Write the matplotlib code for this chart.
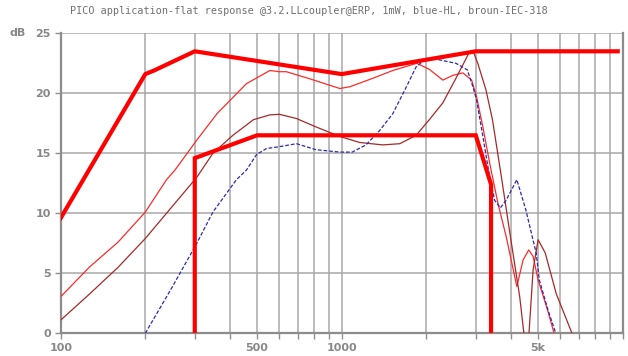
import matplotlib
matplotlib.use("Agg")
import matplotlib.pyplot as plt
import numpy as np

# Target corridor: upper and lower limits (Hz, dB)
upper_f = [100, 200, 215, 300, 1000, 3000, 9600]
upper_db = [9.6, 21.6, 21.9, 23.5, 21.6, 23.5, 23.5]
lower_f = [300, 300, 500, 3000, 3400, 3400]
lower_db = [0, 14.6, 16.5, 16.5, 12.4, 0]

# Measured response, red
red_f = [100, 127, 160, 200, 238, 255, 305, 360, 458, 555, 600, 635, 760, 985, 1070,
         1290, 1520, 1850, 2050, 2290, 2490, 2700, 2900, 3020, 3180, 3360, 3600, 3850,
         4200, 4420, 4630, 4800, 5000, 5400, 5700]
red_db = [3.05, 5.55, 7.6, 10.1, 12.8, 13.6, 16.1, 18.3, 20.8, 21.9, 21.8, 21.8, 21.25,
          20.4, 20.55, 21.25, 21.9, 22.5, 22.0, 21.1, 21.5, 21.7, 21.1, 19.7, 17.2, 14.2,
          10.8, 8.05, 3.9, 6.1, 6.95, 6.4, 4.45, 1.95, 0]

# IEC-318 coupler, brown
brown_f = [100, 127, 160, 200, 305, 348, 410, 485, 555, 600, 690, 810, 985, 1160, 1400,
           1610, 1840, 2050, 2290, 2550, 2850, 2930, 3050, 3260, 3440, 3700, 3970, 4300,
           4450, np.nan, 4640, 4800, 5000, 5300, 5800, 6600]
brown_db = [1.1, 3.3, 5.5, 7.9, 13.0, 15.0, 16.5, 17.8, 18.2, 18.25, 17.9, 17.2, 16.4,
            15.9, 15.7, 15.8, 16.5, 17.8, 19.2, 21.25, 23.45, 23.55, 22.5, 20.3, 17.8,
            13.05, 8.3, 3.05, 0, np.nan, 0, 5.3, 7.8, 6.7, 3.3, 0]

# HL coupler, blue
blue_f = [200, 250, 305, 348, 422, 458, 498, 540, 600, 690, 810, 985, 1090, 1220, 1365,
          1520, 1700, 1840, 2000, 2160, 2550, 2800, 2930, 3020, 3180, 3360, 3500, 3670,
          3850, 4200, 4520, 4920, 5050, 5420, 5780]
blue_db = [0, 3.9, 7.5, 10.1, 12.8, 13.6, 14.9, 15.4, 15.55, 15.8, 15.3, 15.1, 15.1,
           15.7, 16.9, 18.3, 20.55, 22.2, 22.9, 22.85, 22.5, 21.95, 20.55, 19.45, 16.4,
           13.05, 11.1, 10.45, 11.1, 12.8, 10.3, 6.7, 4.45, 1.95, 0]

x_grid = [100, 200, 300, 400, 500, 600, 700, 800, 900, 1000,
          2000, 3000, 4000, 5000, 6000, 7000, 8000, 9000, 10000]
x_labels = {100: "100", 500: "500", 1000: "1000", 5000: "5k"}
y_ticks = [0, 5, 10, 15, 20, 25]

title = "PICO application-flat response @3.2.LLcoupler@ERP, 1mW, blue-HL, broun-IEC-318"

W, H = 628, 356
fig = plt.figure(figsize=(W / 100, H / 100), dpi=100)
ax = fig.add_axes([60.7 / W, 1 - 333.3 / H, 562 / W, 300 / H])
ax.set_xscale("log")
ax.set_xlim(100, 10000)
ax.set_ylim(0, 25)

grid_c = "#a8a8a8"
for f in x_grid[1:-1]:
    ax.axvline(f, color=grid_c, lw=1.1, zorder=1)
for y in y_ticks[1:]:
    ax.axhline(y, color=grid_c, lw=1.1, zorder=1)

for s in ["top"]:
    ax.spines[s].set_visible(False)
for s in ["left", "bottom", "right"]:
    ax.spines[s].set_color("#8c8c8c")
    ax.spines[s].set_linewidth(1.6)

ax.set_xticks(x_grid)
ax.set_xticklabels([x_labels.get(f, "") for f in x_grid])
ax.xaxis.set_minor_locator(matplotlib.ticker.NullLocator())
ax.set_yticks(y_ticks)
ax.set_yticklabels([str(v) for v in y_ticks])
ax.tick_params(axis="both", colors="#909090", labelcolor="#888888", length=4, width=1,
               labelsize=8, pad=3)
for lab in ax.get_xticklabels() + ax.get_yticklabels():
    lab.set_fontweight("bold")

ax.plot(red_f, red_db, color="#ff2a2a", lw=0.9, zorder=3, clip_on=True)
ax.plot(brown_f, brown_db, color="#a82828", lw=0.9, zorder=3)
ax.plot(blue_f, blue_db, color="#2a2ab4", lw=0.9, ls=(0, (3, 1.5)), zorder=3)
ax.plot(upper_f, upper_db, color="#ff0000", lw=3, zorder=4, solid_joinstyle="round")
ax.plot(lower_f, lower_db, color="#ff0000", lw=3, zorder=4, solid_joinstyle="miter")

fig.text(309 / W, 1 - 11.5 / H, title, ha="center", va="center",
         family="DejaVu Sans Mono", fontsize=7.3, color="#707070")
fig.text(18 / W, 1 - 33 / H, "dB", ha="center", va="center",
         fontsize=8, fontweight="bold", color="#888888")

fig.savefig("out.png", dpi=100, facecolor="white")
